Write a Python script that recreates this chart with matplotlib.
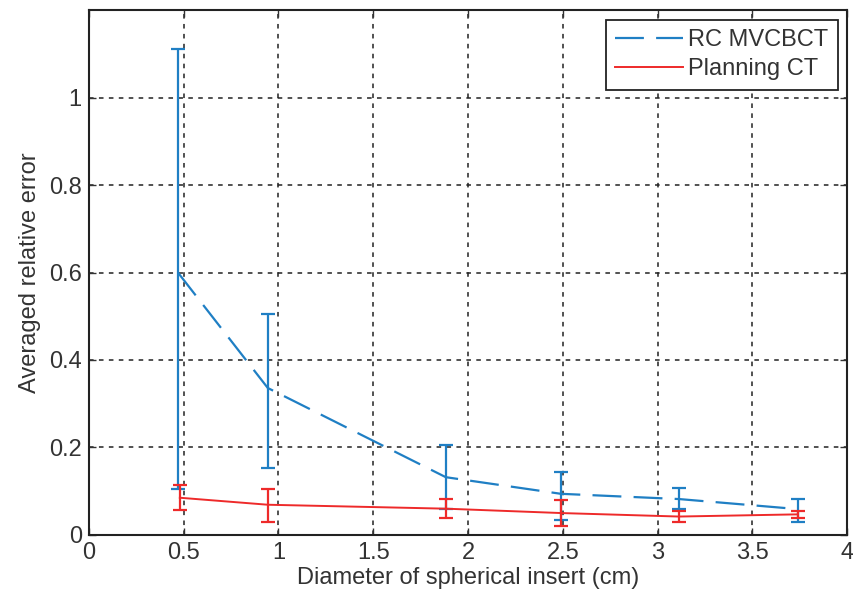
import matplotlib
matplotlib.use("Agg")
import matplotlib.pyplot as plt

plt.rcParams['font.family'] = ['Liberation Sans', 'DejaVu Sans']

# Data
diam_mv = [0.47, 0.944, 1.883, 2.49, 3.113, 3.74]
err_mv = [0.60, 0.336, 0.132, 0.094, 0.082, 0.059]
lo_mv = [0.105, 0.153, 0.059, 0.034, 0.059, 0.030]
hi_mv = [1.111, 0.505, 0.206, 0.145, 0.108, 0.082]

diam_ct = [0.48, 0.944, 1.883, 2.49, 3.113, 3.74]
err_ct = [0.085, 0.069, 0.060, 0.050, 0.042, 0.047]
lo_ct = [0.057, 0.030, 0.038, 0.021, 0.030, 0.039]
hi_ct = [0.113, 0.105, 0.082, 0.080, 0.055, 0.055]

xticks = [0, 0.5, 1, 1.5, 2, 2.5, 3, 3.5, 4]
xticklabels = ['0', '0.5', '1', '1.5', '2', '2.5', '3', '3.5', '4']
yticks = [0, 0.2, 0.4, 0.6, 0.8, 1.0]
yticklabels = ['0', '0.2', '0.4', '0.6', '0.8', '1']

blue = '#1f7fc4'
red = '#ee2a2a'
txt = '#333333'
fs = 17

fig = plt.figure(figsize=(8.54, 5.99), dpi=100)
ax = fig.add_axes([0.104, 0.107, 0.888, 0.876])

yerr_mv = [[e - l for e, l in zip(err_mv, lo_mv)], [h - e for e, h in zip(err_mv, hi_mv)]]
yerr_ct = [[e - l for e, l in zip(err_ct, lo_ct)], [h - e for e, h in zip(err_ct, hi_ct)]]

ax.errorbar(diam_mv, err_mv, yerr=yerr_mv, fmt='none', ecolor=blue, capsize=5,
            capthick=1.6, elinewidth=1.6, zorder=3)
ax.errorbar(diam_ct, err_ct, yerr=yerr_ct, fmt='none', ecolor=red, capsize=5,
            capthick=1.6, elinewidth=1.6, zorder=3)
ax.plot(diam_mv, err_mv, color=blue, lw=1.6, linestyle=(0, (13, 5.5)), zorder=3,
        label='RC MVCBCT')
ax.plot(diam_ct, err_ct, color=red, lw=1.4, linestyle='-', zorder=3,
        label='Planning CT')

ax.set_xlim(0, 4)
ax.set_ylim(0, 1.2)
ax.set_xticks(xticks)
ax.set_xticklabels(xticklabels)
ax.set_yticks(yticks)
ax.set_yticklabels(yticklabels)
ax.grid(True, color='#222222', linestyle=(0, (3, 3.5)), linewidth=1.1)
ax.tick_params(direction='in', length=5, width=1, top=True, right=True,
               labelsize=fs, colors='#333333', labelcolor=txt, pad=5)
for s in ax.spines.values():
    s.set_linewidth(1.5)
    s.set_color('#222222')

ax.set_xlabel('Diameter of spherical insert (cm)', fontsize=fs, color=txt, labelpad=2)
ax.set_ylabel('Averaged relative error', fontsize=fs, color=txt, labelpad=6)

leg = ax.legend(loc='upper right', fontsize=fs, fancybox=False, framealpha=1,
                edgecolor='#222222', handlelength=2.9, borderpad=0.4,
                labelspacing=0.3, handletextpad=0.2, borderaxespad=0.4)
leg.get_frame().set_linewidth(1.3)
for t in leg.get_texts():
    t.set_color(txt)

fig.savefig('out.png', dpi=100)
